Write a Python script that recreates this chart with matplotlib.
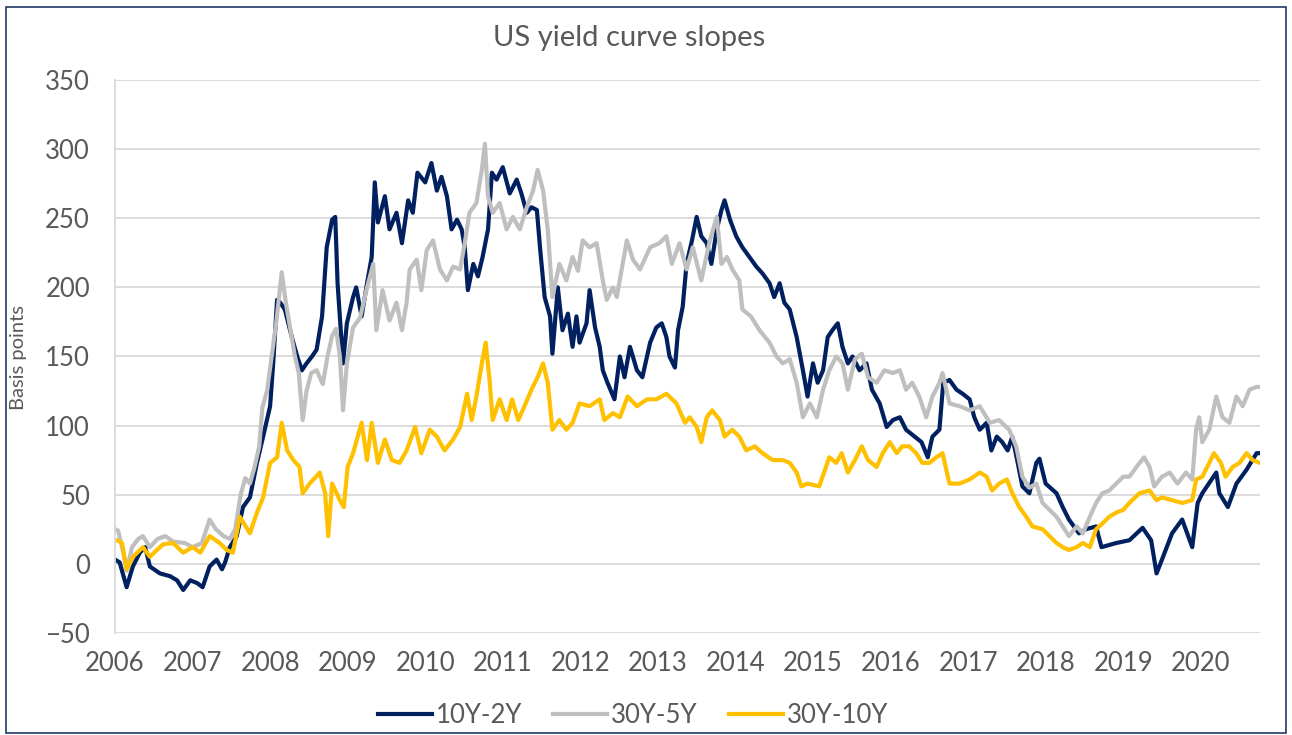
import matplotlib.pyplot as plt
from matplotlib.patches import Rectangle

# US yield curve slopes, basis points (x = fractional year)
x_10y2y = [2006.00, 2006.06, 2006.15, 2006.23, 2006.32, 2006.39, 2006.45, 2006.58, 2006.71, 2006.80,
           2006.88, 2006.97, 2007.06, 2007.13, 2007.22, 2007.31, 2007.38, 2007.42, 2007.48, 2007.57,
           2007.65, 2007.74, 2007.83, 2007.91, 2008.00, 2008.04, 2008.09, 2008.13, 2008.19, 2008.28,
           2008.35, 2008.41, 2008.47, 2008.54, 2008.60, 2008.67, 2008.73, 2008.80, 2008.84, 2008.87,
           2008.94, 2008.99, 2009.07, 2009.11, 2009.18, 2009.25, 2009.31, 2009.35, 2009.39, 2009.48,
           2009.54, 2009.63, 2009.70, 2009.78, 2009.84, 2009.90, 2010.00, 2010.08, 2010.15, 2010.21,
           2010.28, 2010.34, 2010.41, 2010.47, 2010.51, 2010.55, 2010.62, 2010.68, 2010.74, 2010.81,
           2010.86, 2010.92, 2011.00, 2011.09, 2011.18, 2011.24, 2011.31, 2011.37, 2011.44, 2011.48,
           2011.54, 2011.61, 2011.64, 2011.71, 2011.77, 2011.84, 2011.90, 2011.95, 2011.99, 2012.08,
           2012.12, 2012.19, 2012.25, 2012.29, 2012.35, 2012.44, 2012.51, 2012.57, 2012.64, 2012.73,
           2012.80, 2012.90, 2012.98, 2013.05, 2013.11, 2013.15, 2013.22, 2013.26, 2013.32, 2013.37,
           2013.44, 2013.50, 2013.56, 2013.63, 2013.69, 2013.76, 2013.82, 2013.86, 2013.93, 2014.01,
           2014.09, 2014.18, 2014.27, 2014.35, 2014.44, 2014.50, 2014.57, 2014.63, 2014.70, 2014.79,
           2014.87, 2014.93, 2015.00, 2015.06, 2015.13, 2015.19, 2015.25, 2015.32, 2015.38, 2015.45,
           2015.51, 2015.60, 2015.69, 2015.76, 2015.86, 2015.95, 2016.03, 2016.12, 2016.20, 2016.31,
           2016.40, 2016.48, 2016.54, 2016.63, 2016.68, 2016.76, 2016.85, 2016.93, 2017.02, 2017.08,
           2017.15, 2017.24, 2017.30, 2017.37, 2017.44, 2017.51, 2017.57, 2017.64, 2017.70, 2017.79,
           2017.88, 2017.92, 2018.00, 2018.14, 2018.22, 2018.30, 2018.43, 2018.52, 2018.65, 2018.72,
           2018.91, 2019.08, 2019.25, 2019.36, 2019.43, 2019.50, 2019.63, 2019.76, 2019.89, 2019.96,
           2020.02, 2020.20, 2020.24, 2020.35, 2020.46, 2020.59, 2020.72, 2020.76]
y_10y2y = [3, 1, -17, -2, 8, 12, -2, -7, -9, -12,
           -19, -12, -14, -17, -2, 3, -4, 1, 12, 20,
           41, 48, 73, 92, 114, 145, 191, 189, 184, 164,
           150, 140, 145, 150, 155, 179, 229, 249, 251, 203,
           145, 174, 193, 200, 179, 203, 222, 276, 247, 266,
           242, 254, 232, 263, 254, 283, 276, 290, 270, 280,
           266, 242, 249, 242, 229, 198, 217, 208, 222, 242,
           283, 278, 287, 268, 278, 268, 254, 258, 256, 229,
           193, 179, 152, 200, 169, 181, 157, 179, 160, 174,
           198, 171, 157, 140, 131, 119, 150, 135, 157, 140,
           135, 160, 171, 174, 164, 150, 142, 169, 186, 217,
           234, 251, 237, 232, 217, 242, 256, 263, 249, 237,
           229, 222, 215, 210, 203, 193, 203, 189, 184, 164,
           140, 121, 145, 131, 140, 164, 169, 174, 157, 145,
           150, 140, 145, 126, 116, 99, 104, 106, 97, 92,
           88, 77, 92, 97, 131, 133, 126, 123, 119, 106,
           97, 102, 82, 92, 88, 82, 92, 73, 56, 51,
           73, 76, 58, 51, 41, 32, 22, 25, 27, 12,
           15, 17, 26, 17, -7, 3, 22, 32, 12, 44,
           51, 66, 51, 41, 58, 68, 80, 80]

x_30y5y = [2006.00, 2006.04, 2006.10, 2006.15, 2006.22, 2006.30, 2006.36, 2006.45, 2006.55, 2006.65,
           2006.75, 2006.90, 2007.00, 2007.12, 2007.22, 2007.30, 2007.40, 2007.48, 2007.55, 2007.62,
           2007.68, 2007.74, 2007.80, 2007.86, 2007.90, 2007.96, 2008.02, 2008.08, 2008.15, 2008.20,
           2008.26, 2008.32, 2008.37, 2008.42, 2008.47, 2008.53, 2008.60, 2008.68, 2008.74, 2008.80,
           2008.85, 2008.90, 2008.94, 2008.99, 2009.07, 2009.16, 2009.25, 2009.33, 2009.37, 2009.45,
           2009.54, 2009.63, 2009.70, 2009.76, 2009.80, 2009.89, 2009.95, 2010.02, 2010.10, 2010.19,
           2010.28, 2010.36, 2010.45, 2010.51, 2010.57, 2010.66, 2010.73, 2010.77, 2010.81, 2010.87,
           2010.96, 2011.05, 2011.13, 2011.22, 2011.31, 2011.39, 2011.45, 2011.52, 2011.58, 2011.64,
           2011.73, 2011.82, 2011.90, 2011.97, 2012.03, 2012.12, 2012.21, 2012.29, 2012.34, 2012.42,
           2012.47, 2012.60, 2012.68, 2012.77, 2012.90, 2013.02, 2013.11, 2013.18, 2013.28, 2013.37,
           2013.45, 2013.56, 2013.67, 2013.76, 2013.82, 2013.89, 2013.96, 2014.05, 2014.09, 2014.20,
           2014.31, 2014.44, 2014.53, 2014.61, 2014.70, 2014.79, 2014.87, 2014.96, 2015.05, 2015.13,
           2015.21, 2015.30, 2015.38, 2015.45, 2015.54, 2015.63, 2015.71, 2015.82, 2015.92, 2016.03,
           2016.12, 2016.20, 2016.28, 2016.37, 2016.46, 2016.54, 2016.63, 2016.67, 2016.76, 2016.89,
           2017.02, 2017.15, 2017.28, 2017.40, 2017.53, 2017.62, 2017.70, 2017.79, 2017.88, 2017.96,
           2018.05, 2018.14, 2018.22, 2018.30, 2018.40, 2018.48, 2018.57, 2018.65, 2018.73, 2018.82,
           2018.91, 2019.00, 2019.08, 2019.17, 2019.27, 2019.34, 2019.40, 2019.50, 2019.60, 2019.70,
           2019.81, 2019.89, 2019.94, 2019.98, 2020.02, 2020.11, 2020.20, 2020.28, 2020.37, 2020.46,
           2020.54, 2020.63, 2020.72, 2020.76]
y_30y5y = [25, 24, 10, -5, 12, 18, 20, 12, 18, 20,
           16, 15, 12, 15, 32, 25, 20, 18, 25, 50,
           62, 58, 70, 85, 113, 125, 150, 175, 211, 190,
           170, 150, 138, 104, 125, 138, 140, 130, 150, 165,
           170, 150, 111, 145, 171, 178, 200, 217, 169, 198,
           176, 189, 169, 189, 213, 220, 198, 227, 234, 213,
           205, 215, 213, 232, 254, 261, 285, 304, 266, 254,
           261, 242, 251, 242, 258, 270, 285, 270, 242, 193,
           217, 205, 222, 212, 234, 229, 232, 205, 191, 200,
           193, 234, 220, 213, 229, 232, 237, 217, 232, 213,
           229, 205, 234, 251, 217, 222, 213, 205, 184, 179,
           169, 160, 150, 145, 148, 131, 106, 116, 106, 126,
           140, 150, 145, 126, 148, 152, 135, 131, 140, 138,
           140, 126, 131, 121, 106, 121, 131, 138, 116, 114,
           111, 114, 102, 104, 97, 85, 63, 55, 58, 44,
           39, 34, 27, 20, 27, 22, 34, 44, 51, 53,
           58, 63, 63, 70, 77, 70, 56, 63, 66, 58,
           66, 61, 97, 106, 88, 97, 121, 106, 102, 121,
           114, 126, 128, 128]

x_30y10y = [2006.00, 2006.03, 2006.09, 2006.15, 2006.23, 2006.36, 2006.45, 2006.54, 2006.62, 2006.75,
            2006.88, 2007.00, 2007.10, 2007.22, 2007.35, 2007.44, 2007.52, 2007.61, 2007.74, 2007.83,
            2007.91, 2008.00, 2008.09, 2008.15, 2008.22, 2008.30, 2008.38, 2008.42, 2008.51, 2008.64,
            2008.71, 2008.75, 2008.80, 2008.90, 2008.95, 2009.00, 2009.07, 2009.18, 2009.25, 2009.31,
            2009.39, 2009.48, 2009.57, 2009.67, 2009.76, 2009.87, 2009.95, 2010.06, 2010.15, 2010.25,
            2010.36, 2010.45, 2010.54, 2010.60, 2010.66, 2010.73, 2010.78, 2010.83, 2010.87, 2010.96,
            2011.05, 2011.12, 2011.20, 2011.28, 2011.37, 2011.45, 2011.52, 2011.58, 2011.64, 2011.73,
            2011.82, 2011.90, 2011.99, 2012.12, 2012.25, 2012.31, 2012.42, 2012.51, 2012.61, 2012.73,
            2012.86, 2012.98, 2013.11, 2013.24, 2013.35, 2013.41, 2013.50, 2013.56, 2013.63, 2013.70,
            2013.80, 2013.86, 2013.96, 2014.05, 2014.14, 2014.25, 2014.35, 2014.48, 2014.61, 2014.70,
            2014.79, 2014.85, 2014.93, 2015.08, 2015.21, 2015.30, 2015.37, 2015.45, 2015.54, 2015.63,
            2015.71, 2015.82, 2015.90, 2015.99, 2016.08, 2016.15, 2016.24, 2016.33, 2016.41, 2016.50,
            2016.59, 2016.67, 2016.76, 2016.89, 2017.02, 2017.15, 2017.24, 2017.31, 2017.40, 2017.50,
            2017.57, 2017.66, 2017.75, 2017.83, 2017.96, 2018.05, 2018.14, 2018.22, 2018.30, 2018.40,
            2018.48, 2018.57, 2018.65, 2018.73, 2018.82, 2018.91, 2019.00, 2019.08, 2019.21, 2019.34,
            2019.43, 2019.50, 2019.63, 2019.76, 2019.89, 2019.94, 2020.02, 2020.11, 2020.17, 2020.26,
            2020.32, 2020.41, 2020.50, 2020.59, 2020.67, 2020.76]
y_30y10y = [17, 17, 15, -4, 5, 12, 5, 10, 14, 15,
            8, 12, 8, 20, 15, 10, 8, 34, 22, 37,
            48, 73, 77, 102, 82, 75, 70, 51, 58, 66,
            51, 20, 58, 46, 41, 70, 80, 102, 75, 102,
            73, 90, 75, 73, 82, 99, 80, 97, 92, 82,
            90, 99, 123, 104, 121, 145, 160, 133, 104, 119,
            104, 119, 104, 114, 126, 135, 145, 131, 97, 104,
            97, 102, 116, 114, 119, 104, 109, 106, 121, 114,
            119, 119, 123, 116, 102, 106, 99, 88, 106, 111,
            104, 92, 97, 92, 82, 85, 80, 75, 75, 73,
            66, 56, 58, 56, 77, 73, 80, 66, 75, 85,
            75, 70, 80, 88, 80, 85, 85, 80, 73, 73,
            77, 80, 58, 58, 61, 66, 63, 53, 58, 61,
            51, 41, 34, 27, 25, 20, 15, 12, 10, 12,
            15, 12, 25, 29, 34, 37, 39, 44, 51, 53,
            46, 48, 46, 44, 46, 61, 63, 73, 80, 73,
            63, 70, 73, 80, 75, 73]

years = list(range(2006, 2021))
y_ticks = list(range(-50, 351, 50))

plt.rcParams['font.family'] = ['Lato', 'DejaVu Sans']
text_color = '#595959'

fig, ax = plt.subplots(figsize=(12.92, 7.35), dpi=100)
fig.subplots_adjust(left=0.089, right=0.975, top=0.891, bottom=0.139)

ax.plot(x_10y2y, y_10y2y, color='#002060', lw=3, label='10Y-2Y')
ax.plot(x_30y5y, y_30y5y, color='#BFBFBF', lw=3, label='30Y-5Y')
ax.plot(x_30y10y, y_30y10y, color='#FFC000', lw=3, label='30Y-10Y')

ax.set_xlim(2006, 2020.76)
ax.set_ylim(-50, 350)
ax.set_xticks(years)
ax.set_xticklabels([str(y) for y in years])
ax.set_yticks(y_ticks)
ax.grid(axis='y', color='#D9D9D9', lw=1.3)
ax.set_axisbelow(True)
for side in ['top', 'right', 'bottom']:
    ax.spines[side].set_visible(False)
ax.spines['left'].set_color('#D9D9D9')
ax.spines['left'].set_linewidth(1.3)
ax.tick_params(axis='both', length=0, labelsize=18.5, labelcolor=text_color)
ax.tick_params(axis='y', pad=18)
ax.tick_params(axis='x', pad=13)

fig.text(0.487, 0.948, 'US yield curve slopes', ha='center', va='center',
         fontsize=21, color=text_color)
fig.text(0.014, 0.513, 'Basis points', rotation=90, ha='center', va='center',
         fontsize=14.5, color=text_color)

fig.legend(loc='center', bbox_to_anchor=(0.49, 0.026), ncol=3, frameon=False,
           fontsize=18.5, handlelength=2.1, handletextpad=0.15, columnspacing=1.2,
           labelcolor=text_color)

fig.patches.append(Rectangle((0.005, 0.003), 0.99, 0.987, transform=fig.transFigure,
                             fill=False, edgecolor='#1F3864', lw=1.2))

plt.savefig('out.png', dpi=100)
